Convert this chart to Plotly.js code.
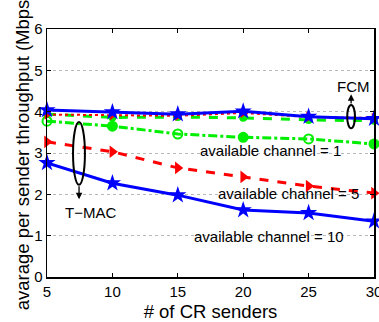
<!DOCTYPE html>
<html>
<head>
<meta charset="utf-8">
<script src="https://cdn.plot.ly/plotly-3.0.1.min.js"></script>
<style>html,body{margin:0;padding:0;background:#fff;}#chart{width:379px;height:322px;}</style>
</head>
<body>
<div id="chart"></div>
<script>
// Data
var senders = [5, 10, 15, 20, 25, 30];
var xTicks = [5, 10, 15, 20, 25, 30];
var yTicks = [0, 1, 2, 3, 4, 5, 6];

var fcmCh10 = [4.04, 3.99, 3.94, 4.01, 3.88, 3.83];
var fcmCh5  = [3.93, 3.92, 3.90, 3.97, 3.87, 3.85];
var fcmCh1  = [3.94, 3.86, 3.87, 3.85, 3.80, 3.78];

var tmacCh1  = [3.77, 3.65, 3.46, 3.38, 3.34, 3.22];
var tmacCh5  = [3.27, 3.03, 2.64, 2.42, 2.20, 2.03];
var tmacCh10 = [2.76, 2.27, 1.98, 1.62, 1.55, 1.35];

var BLUE = '#0000ff', RED = '#ff0000', GREEN = '#00ee00';
var FONT = 'Liberation Sans, Arial, sans-serif';

var traces = [
  {x: senders, y: tmacCh1, mode: 'lines+markers', cliponaxis: false,
   line: {color: GREEN, width: 3, dash: 'dashdot'},
   marker: {color: GREEN, size: 9, symbol: ['circle-open','circle','circle-open','circle','circle-open','circle'], line: {color: GREEN, width: 2}}},
  {x: senders, y: fcmCh1, mode: 'lines+markers', cliponaxis: false,
   line: {color: GREEN, width: 3, dash: 'dash'},
   marker: {color: GREEN, size: 8, symbol: 'circle'}},
  {x: senders, y: fcmCh5, mode: 'lines+markers', cliponaxis: false,
   line: {color: RED, width: 2, dash: 'dot'},
   marker: {color: RED, size: 9, symbol: 'triangle-right'}},
  {x: senders, y: tmacCh5, mode: 'lines+markers', cliponaxis: false,
   line: {color: RED, width: 3, dash: 'dash'},
   marker: {color: RED, size: 11, symbol: 'triangle-right'}},
  {x: senders, y: fcmCh10, mode: 'lines+markers', cliponaxis: false,
   line: {color: BLUE, width: 3},
   marker: {color: BLUE, size: 13, symbol: 'star'}},
  {x: senders, y: tmacCh10, mode: 'lines+markers', cliponaxis: false,
   line: {color: BLUE, width: 3},
   marker: {color: BLUE, size: 13, symbol: 'star'}}
];

var annFont = {family: FONT, size: 15, color: '#000'};
var layout = {
  width: 379, height: 322,
  margin: {l: 47, r: 5, t: 29, b: 45},
  paper_bgcolor: '#fff', plot_bgcolor: '#fff',
  showlegend: false,
  font: {family: FONT, color: '#000'},
  xaxis: {
    range: [5, 30], tickvals: xTicks, ticktext: xTicks.map(String),
    ticks: 'inside', ticklen: 4, tickcolor: '#000', ticklabeloverflow: 'allow',
    showline: true, linecolor: '#000', linewidth: 1.5, mirror: 'ticks',
    showgrid: false, zeroline: false,
    tickfont: {family: FONT, size: 15},
    title: {text: '# of CR senders', font: {family: FONT, size: 18.5}, standoff: 6}
  },
  yaxis: {
    range: [0, 6], tickvals: yTicks, ticktext: yTicks.map(String),
    ticks: 'inside', ticklen: 4, tickcolor: '#000', ticklabeloverflow: 'allow',
    showline: true, linecolor: '#000', linewidth: 1.5, mirror: 'ticks',
    showgrid: true, gridcolor: '#b8b8b8', griddash: 'dot', gridwidth: 1,
    zeroline: false,
    tickfont: {family: FONT, size: 15}
  },
  shapes: [
    {type: 'circle', xref: 'x', yref: 'y', x0: 6.99, x1: 7.9, y0: 2.23, y1: 3.75,
     line: {color: '#000', width: 2}},
    {type: 'circle', xref: 'x', yref: 'y', x0: 27.95, x1: 28.55, y0: 3.6, y1: 4.16,
     line: {color: '#000', width: 2}}
  ],
  annotations: [
    {xref: 'paper', yref: 'paper', x: -0.075, y: 0.505, xanchor: 'center', yanchor: 'middle',
     text: 'avarage per sender throughput (Mbps)',
     textangle: -90, showarrow: false, font: {family: FONT, size: 18.5, color: '#000'}},
    {x: 7.45, y: 1.88, ax: 7.45, ay: 2.23, axref: 'x', ayref: 'y', text: '',
     showarrow: true, arrowhead: 2, arrowsize: 1, arrowwidth: 1.3, arrowcolor: '#000'},
    {x: 8.3, y: 1.57, text: 'T\u2212MAC', showarrow: false, font: annFont},
    {x: 28.25, y: 4.42, ax: 28.25, ay: 4.16, axref: 'x', ayref: 'y', text: '',
     showarrow: true, arrowhead: 2, arrowsize: 1, arrowwidth: 1.3, arrowcolor: '#000'},
    {x: 28.4, y: 4.6, text: 'FCM', showarrow: false, font: annFont},
    {x: 22.1, y: 3.07, text: 'available channel = 1', showarrow: false, font: annFont},
    {x: 23.5, y: 2.03, text: 'available channel = 5', showarrow: false, font: annFont},
    {x: 22.0, y: 0.99, text: 'available channel = 10', showarrow: false, font: annFont}
  ]
};

Plotly.newPlot('chart', traces, layout, {displayModeBar: false, staticPlot: true});
</script>
</body>
</html>
